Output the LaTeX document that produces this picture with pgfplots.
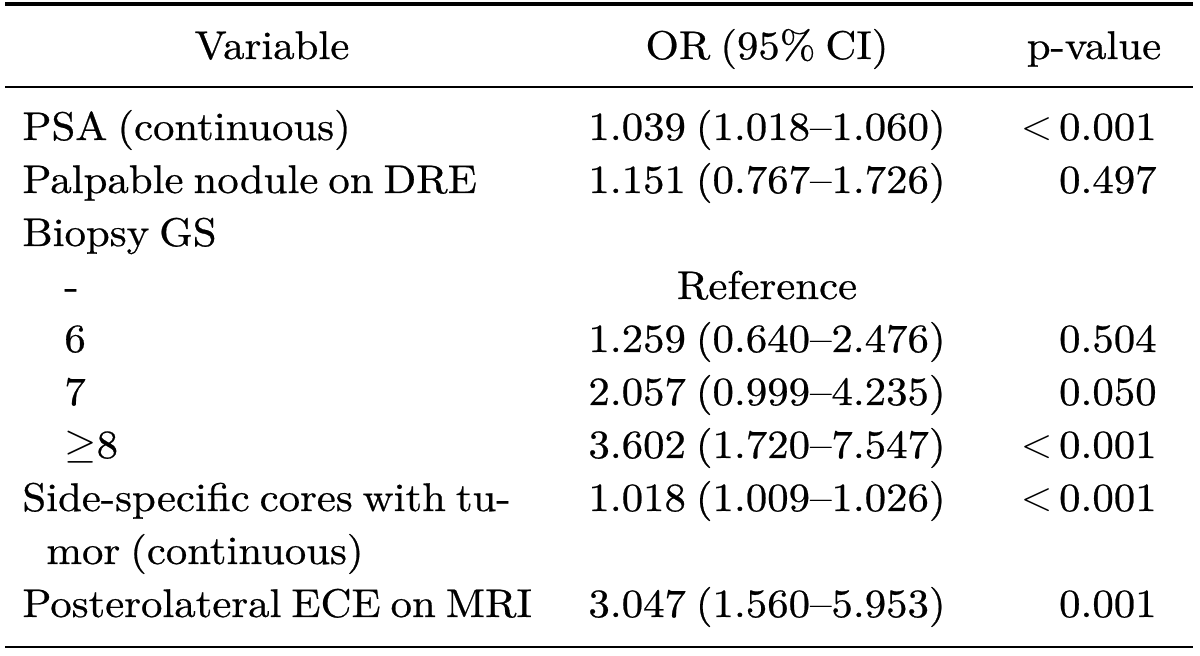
\documentclass[border=0pt]{standalone}
\usepackage{fontspec}
\setmainfont{lmroman10-regular.otf}[FakeStretch=1.07, FakeBold=0.6, WordSpace=0.7]
\usepackage{pgfplots}
\pgfplotsset{compat=1.18}
\begin{document}
\begin{tikzpicture}[
  cell/.style={font=\fontsize{20}{24}\selectfont, inner sep=0pt},
  lft/.style={cell, anchor=base west},
  mid/.style={cell, anchor=base},
  rgt/.style={cell, anchor=base east},
]
\begin{axis}[
  width=600pt, height=328pt, scale only axis,
  xmin=0, xmax=1200, ymin=0, ymax=656, y dir=reverse,
  hide axis, clip=false,
]
  % rules
  \draw[line width=2pt] (axis cs:5,4) -- (axis cs:1193,4);
  \draw[line width=1pt] (axis cs:5,87) -- (axis cs:1193,87);
  \draw[line width=1pt] (axis cs:5,647) -- (axis cs:1193,647);

  % header
  \node[mid] at (axis cs:272,59) {Variable};
  \node[mid] at (axis cs:767,59) {OR (95\% CI)};
  \node[mid] at (axis cs:1094,59) {p-value};

  % first column
  \node[lft] at (axis cs:22,140) {PSA (continuous)};
  \node[lft] at (axis cs:22,193) {Palpable nodule on DRE};
  \node[lft] at (axis cs:22,246) {Biopsy GS};
  \node[lft] at (axis cs:64,299) {-};
  \node[lft] at (axis cs:64,352) {6};
  \node[lft] at (axis cs:64,405) {7};
  \node[lft] at (axis cs:64,458) {$\geq$8};
  \node[lft] at (axis cs:22,511) {Side-specific cores with tu-};
  \node[lft] at (axis cs:46,564) {mor (continuous)};
  \node[lft] at (axis cs:22,617) {Posterolateral ECE on MRI};

  % OR (95% CI)
  \node[mid] at (axis cs:767,140) {1.039 (1.018--1.060)};
  \node[mid] at (axis cs:767,193) {1.151 (0.767--1.726)};
  \node[mid] at (axis cs:767,299) {Reference};
  \node[mid] at (axis cs:767,352) {1.259 (0.640--2.476)};
  \node[mid] at (axis cs:767,405) {2.057 (0.999--4.235)};
  \node[mid] at (axis cs:767,458) {3.602 (1.720--7.547)};
  \node[mid] at (axis cs:767,511) {1.018 (1.009--1.026)};
  \node[mid] at (axis cs:767,617) {3.047 (1.560--5.953)};

  % p-value
  \node[rgt] at (axis cs:1157,140) {$<$\,0.001};
  \node[rgt] at (axis cs:1157,193) {0.497};
  \node[rgt] at (axis cs:1157,352) {0.504};
  \node[rgt] at (axis cs:1157,405) {0.050};
  \node[rgt] at (axis cs:1157,458) {$<$\,0.001};
  \node[rgt] at (axis cs:1157,511) {$<$\,0.001};
  \node[rgt] at (axis cs:1157,617) {0.001};
\end{axis}
\pgfresetboundingbox
\path (current axis.south west) rectangle (current axis.north east);
\end{tikzpicture}
\end{document}
